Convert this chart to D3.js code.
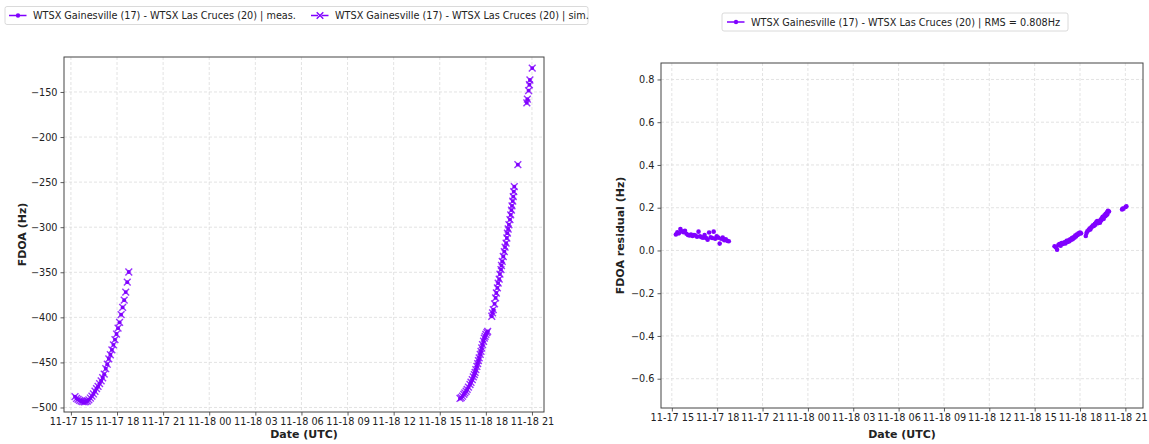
<!DOCTYPE html>
<html>
<head>
<meta charset="utf-8">
<script src="https://cdn.jsdelivr.net/npm/d3@7"></script>
<style>
  body { margin: 0; background: white; }
  svg text { font-family: "DejaVu Sans", sans-serif; fill: #222; }
</style>
</head>
<body>
<div id="chartdiv"></div>
<script>
// FDOA, pass over 11-17 afternoon (sim values, meas sits on top of them)
const pass1Times = ["11-17 15:16","11-17 15:22","11-17 15:28","11-17 15:34","11-17 15:40","11-17 15:46",
  "11-17 15:52","11-17 15:58","11-17 16:04","11-17 16:10","11-17 16:16","11-17 16:22","11-17 16:28",
  "11-17 16:34","11-17 16:40","11-17 16:46","11-17 16:52","11-17 16:58","11-17 17:04","11-17 17:10",
  "11-17 17:16","11-17 17:22","11-17 17:28","11-17 17:34","11-17 17:40","11-17 17:46","11-17 17:52",
  "11-17 17:58","11-17 18:04","11-17 18:10","11-17 18:16","11-17 18:22","11-17 18:28","11-17 18:34",
  "11-17 18:40","11-17 18:46"];
const pass1Fdoa = [-488,-490,-491,-492,-493,-493.5,-493.7,-493.5,-492.8,-491.5,-489.5,-487.3,-485,
  -482,-479,-476.6,-473.5,-470.5,-467,-463,-457,-452,-446,-441.5,-436,-430.5,-424.7,-418.5,-412,
  -405.5,-397,-389,-381,-372,-361,-349.7];

// second pass, 11-18 afternoon/evening
const pass2Times = ["11-18 16:19","11-18 16:24","11-18 16:29","11-18 16:34","11-18 16:38","11-18 16:43",
  "11-18 16:47","11-18 16:52","11-18 16:58","11-18 17:02","11-18 17:07","11-18 17:11","11-18 17:15",
  "11-18 17:18","11-18 17:21","11-18 17:25","11-18 17:28","11-18 17:31","11-18 17:34","11-18 17:38",
  "11-18 17:41","11-18 17:44","11-18 17:47","11-18 17:51","11-18 17:54","11-18 17:57","11-18 18:00",
  "11-18 18:04","11-18 18:07","11-18 18:23","11-18 18:26","11-18 18:29","11-18 18:34","11-18 18:38",
  "11-18 18:41","11-18 18:45","11-18 18:48","11-18 18:52","11-18 18:55","11-18 18:59","11-18 19:01",
  "11-18 19:04","11-18 19:08","11-18 19:12","11-18 19:15","11-18 19:19","11-18 19:22","11-18 19:24",
  "11-18 19:27","11-18 19:30","11-18 19:34","11-18 19:37","11-18 19:40","11-18 19:42","11-18 19:45",
  "11-18 19:47","11-18 19:49","11-18 19:51","11-18 20:05","11-18 20:40","11-18 20:42","11-18 20:47",
  "11-18 20:50","11-18 20:52","11-18 21:01"];
const pass2Fdoa = [-490,-489,-487.5,-485.5,-483.7,-482,-480,-477.5,-474.5,-472,-469,-466,-463.5,
  -461,-458,-454.5,-451.3,-448,-445,-441,-437.7,-434,-430.3,-426.5,-423,-421,-419,-417,-415.5,
  -398.8,-395,-391.4,-385,-378.5,-373,-367.4,-362,-357.5,-352,-347,-342.5,-338,-332.5,-327,-322,
  -317.6,-312,-306.6,-302,-297.3,-291.5,-286.3,-281,-276.3,-271,-266,-260.5,-255,-230.6,-162,
  -158,-148.5,-142,-136.7,-123.5];

// residuals (meas - sim)
const resid1Values = [0.075,0.085,0.080,0.100,0.090,0.085,0.092,0.078,0.072,0.070,0.074,0.068,0.072,
  0.070,0.064,0.088,0.066,0.062,0.060,0.072,0.058,0.050,0.084,0.062,0.058,0.088,0.055,0.066,0.060,
  0.032,0.055,0.060,0.048,0.052,0.045,0.043];
const resid2Times = ["11-18 16:19","11-18 16:24","11-18 16:29","11-18 16:34","11-18 16:38","11-18 16:43",
  "11-18 16:47","11-18 16:52","11-18 16:58","11-18 17:02","11-18 17:07","11-18 17:11","11-18 17:15",
  "11-18 17:18","11-18 17:21","11-18 17:25","11-18 17:28","11-18 17:31","11-18 17:34","11-18 17:38",
  "11-18 17:41","11-18 17:44","11-18 17:47","11-18 17:51","11-18 17:54","11-18 17:57","11-18 18:00",
  "11-18 18:04","11-18 18:23","11-18 18:26","11-18 18:29","11-18 18:34","11-18 18:38","11-18 18:41",
  "11-18 18:45","11-18 18:48","11-18 18:52","11-18 18:55","11-18 18:59","11-18 19:01","11-18 19:04",
  "11-18 19:08","11-18 19:12","11-18 19:15","11-18 19:19","11-18 19:22","11-18 19:24","11-18 19:27",
  "11-18 19:30","11-18 19:34","11-18 19:37","11-18 19:40","11-18 19:42","11-18 19:45","11-18 19:47",
  "11-18 19:49","11-18 19:51","11-18 19:55","11-18 20:47","11-18 20:50","11-18 20:52","11-18 21:01",
  "11-18 21:04"];
const resid2Values = [0.020,0.015,0.003,0.025,0.030,0.022,0.035,0.030,0.038,0.033,0.045,0.040,0.048,
  0.043,0.052,0.050,0.058,0.053,0.062,0.060,0.070,0.065,0.075,0.072,0.080,0.078,0.084,0.080,0.068,
  0.082,0.090,0.095,0.102,0.098,0.108,0.112,0.118,0.115,0.125,0.120,0.132,0.138,0.128,0.135,0.130,
  0.145,0.140,0.150,0.158,0.148,0.165,0.160,0.172,0.165,0.178,0.170,0.185,0.182,0.192,0.196,0.195,
  0.203,0.207];

const xTickTimes = ["11-17 15:00","11-17 18:00","11-17 21:00","11-18 00:00","11-18 03:00","11-18 06:00",
  "11-18 09:00","11-18 12:00","11-18 15:00","11-18 18:00","11-18 21:00"];
const fdoaTicks = [-500,-450,-400,-350,-300,-250,-200,-150];
const residTicks = [-0.6,-0.4,-0.2,0.0,0.2,0.4,0.6,0.8];

const pairName = "WTSX Gainesville (17) - WTSX Las Cruces (20)";
const rmsText = "RMS = 0.808Hz";

const purple = "#8000ff";
const parseT = d3.timeParse("%m-%d %H:%M");
const tickFormat = d3.timeFormat("%m-%d %H");

const pass1 = pass1Times.map((t, i) => ({t: parseT(t), v: pass1Fdoa[i]}));
const pass2 = pass2Times.map((t, i) => ({t: parseT(t), v: pass2Fdoa[i]}));
const fdoaData = pass1.concat(pass2);
const residData = pass1Times.map((t, i) => ({t: parseT(t), v: resid1Values[i]}))
  .concat(resid2Times.map((t, i) => ({t: parseT(t), v: resid2Values[i]})));

let svg = d3.select("#chartdiv").append("svg")
  .attr("width", 1149).attr("height", 444);

let leftBox = {left: 64, right: 544, top: 57, bottom: 412};
let rightBox = {left: 661, right: 1143, top: 63, bottom: 408};

function minus(s){ return s.replace("-", "\u2212"); }

function drawPanel(box, xDomain, yDomain, yTicks, yFmt, yLabel, yLabelX){
  let x = d3.scaleTime().domain(xDomain.map(parseT)).range([box.left, box.right]);
  let y = d3.scaleLinear().domain(yDomain).range([box.bottom, box.top]);

  // grid
  let grid = svg.append("g");
  grid.selectAll(".vg").data(xTickTimes.map(parseT)).enter().append("line")
    .attr("x1", d => x(d)).attr("x2", d => x(d))
    .attr("y1", box.top).attr("y2", box.bottom)
    .attr("stroke", "#dcdcdc").attr("stroke-width", 0.8).attr("stroke-dasharray", "3,2");
  grid.selectAll(".hg").data(yTicks).enter().append("line")
    .attr("x1", box.left).attr("x2", box.right)
    .attr("y1", d => y(d)).attr("y2", d => y(d))
    .attr("stroke", "#dcdcdc").attr("stroke-width", 0.8).attr("stroke-dasharray", "3,2");

  let xAxis = d3.axisBottom(x).tickValues(xTickTimes.map(parseT)).tickFormat(tickFormat)
    .tickSize(3.5).tickSizeOuter(0).tickPadding(3);
  let gx = svg.append("g").attr("transform", `translate(0, ${box.bottom})`).call(xAxis);
  let yAxis = d3.axisLeft(y).tickValues(yTicks).tickFormat(d => minus(yFmt(d)))
    .tickSize(3.5).tickSizeOuter(0).tickPadding(3);
  let gy = svg.append("g").attr("transform", `translate(${box.left}, 0)`).call(yAxis);
  [gx, gy].forEach(g => {
    g.select(".domain").remove();
    g.selectAll("line").attr("stroke", "#333").attr("stroke-width", 0.8);
    g.selectAll("text").attr("font-size", "9.7px").attr("fill", "#222")
      .attr("font-family", "DejaVu Sans");
  });

  // frame
  svg.append("rect")
    .attr("x", box.left).attr("y", box.top)
    .attr("width", box.right - box.left).attr("height", box.bottom - box.top)
    .attr("fill", "none").attr("stroke", "#444").attr("stroke-width", 1);

  svg.append("text")
    .attr("x", (box.left + box.right) / 2).attr("y", 438)
    .attr("text-anchor", "middle").attr("font-size", "11px").attr("font-weight", "bold")
    .text("Date (UTC)");
  svg.append("text")
    .attr("transform", `translate(${yLabelX}, ${(box.top + box.bottom) / 2}) rotate(-90)`)
    .attr("text-anchor", "middle").attr("font-size", "11px").attr("font-weight", "bold")
    .text(yLabel);

  return {x: x, y: y};
}

function crossPath(cx, cy, r){
  return `M${cx - r},${cy - r}L${cx + r},${cy + r}M${cx - r},${cy + r}L${cx + r},${cy - r}`;
}

function legendEntry(g, lx, ly, kind, label){
  g.append("line").attr("x1", lx).attr("x2", lx + 18).attr("y1", ly).attr("y2", ly)
    .attr("stroke", purple).attr("stroke-width", 1.5).attr("stroke-dasharray", "7,3.5");
  if (kind == "x") {
    g.append("path").attr("d", crossPath(lx + 9, ly, 3.3)).attr("stroke", purple).attr("stroke-width", 1.3);
  } else {
    g.append("circle").attr("cx", lx + 9).attr("cy", ly).attr("r", 2.2).attr("fill", purple);
  }
  g.append("text").attr("x", lx + 24).attr("y", ly + 3.5).attr("font-size", "9.7px").text(label);
}

// ---- left panel: FDOA
let L = drawPanel(leftBox, ["11-17 14:33", "11-18 21:47"], [-505, -111.2], fdoaTicks,
  d3.format("d"), "FDOA (Hz)", 26);

svg.append("g").selectAll("path").data(fdoaData).enter().append("path")
  .attr("d", d => crossPath(L.x(d.t), L.y(d.v), 3.4))
  .attr("stroke", purple).attr("stroke-width", 1.4).attr("fill", "none").attr("opacity", 0.8);
svg.append("g").selectAll("circle").data(fdoaData).enter().append("circle")
  .attr("cx", d => L.x(d.t)).attr("cy", d => L.y(d.v)).attr("r", 1.9)
  .attr("fill", purple);

// ---- right panel: residual
let R = drawPanel(rightBox, ["11-17 14:17", "11-18 22:10"], [-0.737, 0.877], residTicks,
  d3.format(".1f"), "FDOA residual (Hz)", 624);

svg.append("g").selectAll("circle").data(residData).enter().append("circle")
  .attr("cx", d => R.x(d.t)).attr("cy", d => R.y(d.v)).attr("r", 2.3)
  .attr("fill", purple);

// ---- legends
let leg1 = svg.append("g");
leg1.append("rect").attr("x", 5).attr("y", 6.5).attr("width", 583).attr("height", 18)
  .attr("rx", 2).attr("fill", "white").attr("stroke", "#d0d0d0").attr("stroke-width", 0.8);
legendEntry(leg1, 9, 15.5, "dot", pairName + " | meas.");
legendEntry(leg1, 311, 15.5, "x", pairName + " | sim.");

let leg2 = svg.append("g");
leg2.append("rect").attr("x", 722).attr("y", 13).attr("width", 346).attr("height", 18)
  .attr("rx", 2).attr("fill", "white").attr("stroke", "#d0d0d0").attr("stroke-width", 0.8);
legendEntry(leg2, 727, 22, "dot", pairName + " | " + rmsText);
</script>
</body>
</html>
